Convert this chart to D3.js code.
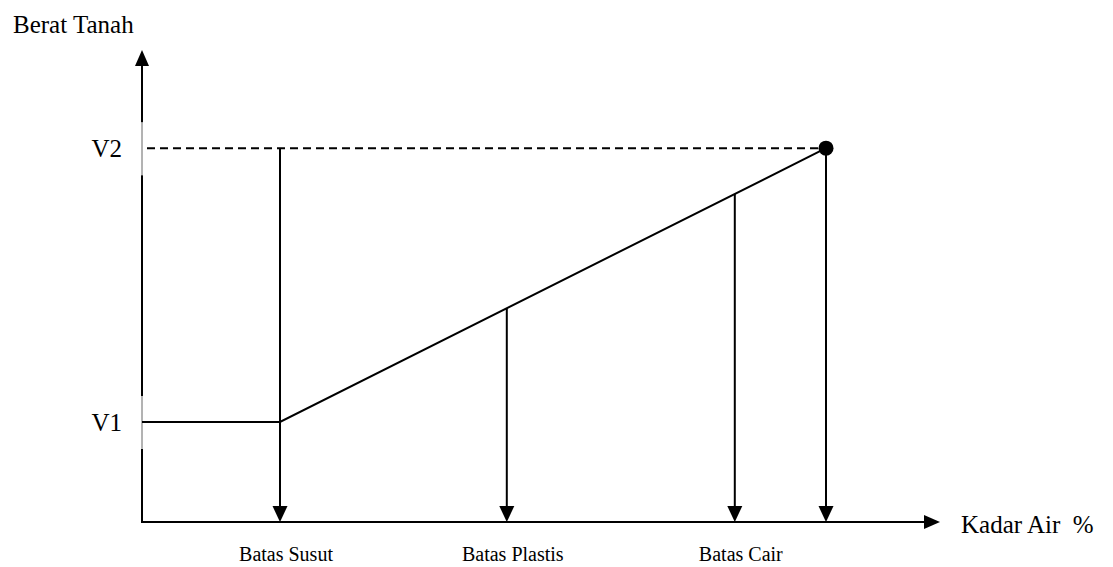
<!DOCTYPE html>
<html>
  <head>
    <meta charset="utf-8" />
    <title>Berat Tanah vs Kadar Air</title>
    <script src="https://cdnjs.cloudflare.com/ajax/libs/d3/7.8.5/d3.min.js"></script>
    <style>
      body { margin: 0; background: #fff; }
      svg { display: block; font-family: "Liberation Serif", "Times New Roman", serif; }
    </style>
  </head>
  <body>
    <svg width="1113" height="567"></svg>
    <script>
      // kadar air (x) readings, schematic units
      const limitNames = ["Batas Susut", "Batas Plastis", "Batas Cair"];
      const limitX = [17.25, 45.6, 74.1];
      const limitTop = [79.2, 45.3, 69.5]; // where each drop line starts
      const endX = 85.5;
      const levelNames = ["V1", "V2"];
      const levelY = [21.2, 79.2];
      const curveX = [0, 17.25, 85.5];
      const curveY = [21.2, 21.2, 79.2];

      const svg = d3.select("svg");
      const x = d3.scaleLinear().domain([0, 100]).range([142, 942]);
      const y = d3.scaleLinear().domain([0, 100]).range([522, 50]);
      const x0 = x(0), y0 = y(0);

      // label band on the y axis (thin part behind V1/V2)
      const bands = levelY.map((v) => [y(v) - 26, y(v) + 27]);

      // y axis, drawn in pieces
      let ys = [y(100) + 12];
      bands.slice().sort((a, b) => a[0] - b[0]).forEach((b) => ys.push(b[0], b[1]));
      ys.push(y0);
      for (let i = 0; i < ys.length; i += 2) {
        svg.append("line").attr("x1", x0).attr("x2", x0)
          .attr("y1", ys[i]).attr("y2", ys[i + 1])
          .attr("stroke", "#000").attr("stroke-width", 2);
      }
      bands.forEach((b) => {
        svg.append("line").attr("x1", x0).attr("x2", x0)
          .attr("y1", b[0]).attr("y2", b[1])
          .attr("stroke", "#666").attr("stroke-width", 1);
      });
      svg.append("path")
        .attr("d", `M${x0 - 7},${y(100) + 16} L${x0},${y(100)} L${x0 + 7},${y(100) + 16} Z`)
        .attr("fill", "#000");

      // x axis
      svg.append("line").attr("x1", x0 - 1).attr("x2", x(100) - 14)
        .attr("y1", y0).attr("y2", y0)
        .attr("stroke", "#000").attr("stroke-width", 2);
      svg.append("path")
        .attr("d", `M${x(100) - 18},${y0 - 7} L${x(100) - 2},${y0} L${x(100) - 18},${y0 + 7} Z`)
        .attr("fill", "#000");

      // dashed V2 line
      svg.append("line")
        .attr("x1", x0 + 5).attr("x2", x(endX))
        .attr("y1", y(levelY[1])).attr("y2", y(levelY[1]))
        .attr("stroke", "#000").attr("stroke-width", 2)
        .attr("stroke-dasharray", "8,5");

      // curve
      const line = d3.line().x((d) => x(d[0])).y((d) => y(d[1]));
      svg.append("path")
        .attr("d", line(d3.zip(curveX, curveY)))
        .attr("fill", "none").attr("stroke", "#000").attr("stroke-width", 2);

      // drop lines with arrowheads
      const drops = limitX.map((v, i) => [v, limitTop[i]]).concat([[endX, levelY[1]]]);
      drops.forEach((d) => {
        const px = x(d[0]);
        svg.append("line").attr("x1", px).attr("x2", px)
          .attr("y1", y(d[1])).attr("y2", y0 - 12)
          .attr("stroke", "#000").attr("stroke-width", 2);
        svg.append("path")
          .attr("d", `M${px - 7.5},${y0 - 16} L${px},${y0} L${px + 7.5},${y0 - 16} Z`)
          .attr("fill", "#000");
      });

      svg.append("circle")
        .attr("cx", x(endX)).attr("cy", y(levelY[1])).attr("r", 7.5)
        .attr("fill", "#000");

      // labels
      svg.append("text").attr("x", 13).attr("y", 33)
        .attr("font-size", 25).text("Berat Tanah");
      svg.append("text").attr("x", 961).attr("y", 533)
        .attr("font-size", 25).attr("xml:space", "preserve")
        .style("white-space", "pre").text("Kadar Air  %");

      levelNames.forEach((n, i) => {
        svg.append("text").attr("x", 122).attr("y", y(levelY[i]) + 9)
          .attr("text-anchor", "end").attr("font-size", 25).text(n);
      });

      limitNames.forEach((n, i) => {
        svg.append("text").attr("x", x(limitX[i]) + 6).attr("y", 561)
          .attr("text-anchor", "middle").attr("font-size", 20).text(n);
      });
    </script>
  </body>
</html>
